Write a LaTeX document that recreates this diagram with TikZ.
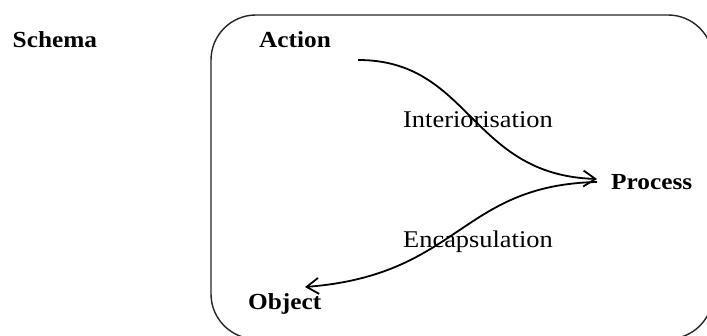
\documentclass[tikz,border=0pt]{standalone}
\usepackage{fontspec}
\setmainfont{Liberation Serif}[FakeStretch=1.1]
\usetikzlibrary{calc,arrows.meta}
\tikzset{
  boldlbl/.style={inner sep=0pt, anchor=base west, font=\fontsize{23}{26}\selectfont\bfseries},
  plainlbl/.style={inner sep=0pt, anchor=base west, font=\fontsize{24}{27}\selectfont},
  frame/.style={draw=black!85, line width=1.4pt, rounded corners=45pt},
  flow/.style={line width=1.8pt, -{Straight Barb[length=12pt,width=16pt]}}
}
\begin{document}
\begin{tikzpicture}[x=1pt,y=1pt]
\useasboundingbox (0,0) rectangle (707,336);
\fill[white] (0,0) rectangle (707,336);
\draw[frame] (211,-3) rectangle (713,321);
\node[boldlbl] (sch) at (12.5,288) {Schema};
\node[boldlbl] (act) at (259,288) {Action};
\node[boldlbl] (pro) at (611,146) {Process};
\node[boldlbl] (obj) at (248,26) {Object};
\node[plainlbl] (int) at (403,208) {Interiorisation};
\node[plainlbl] (enc) at (403,88) {Encapsulation};
\draw[flow] ($(act.base east)+(27,-12)$) .. controls +(113,0) and +(-127,4) .. ($(pro.base west)+(-14,11)$);
\draw[flow] ($(pro.base west)+(-14,8)$) .. controls +(-137,-3) and +(155,12) .. ($(obj.base west)+(57,23)$);
\end{tikzpicture}
\end{document}
